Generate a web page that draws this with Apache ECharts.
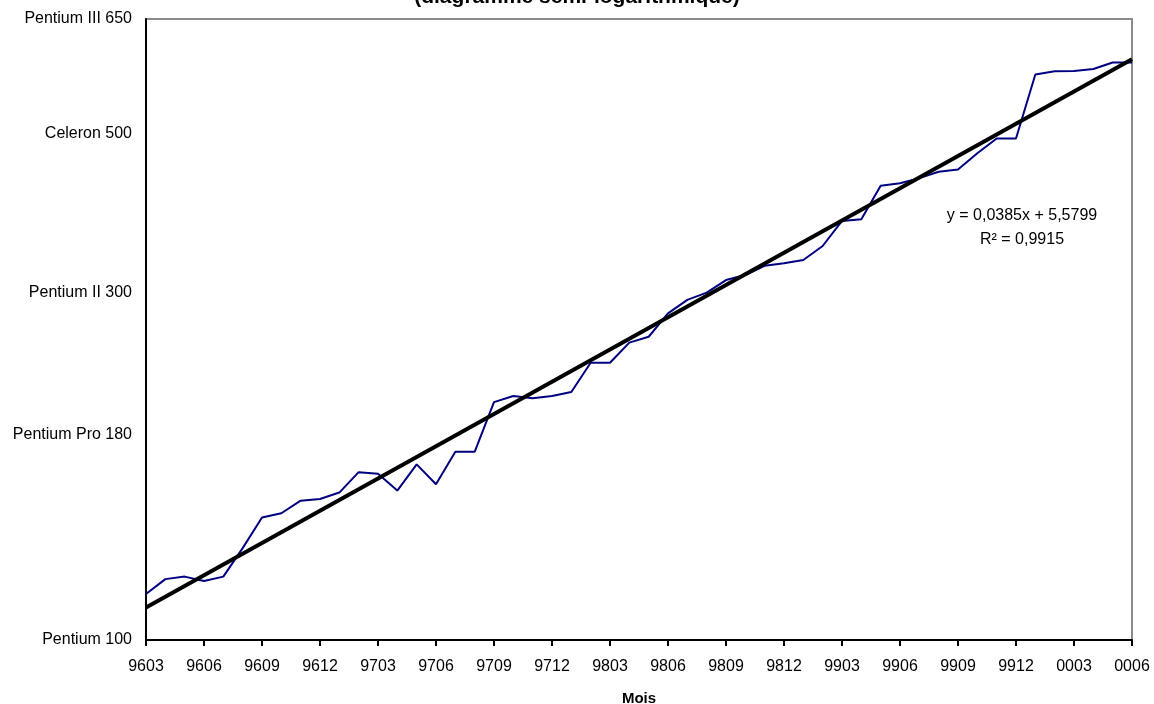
<!DOCTYPE html>
<html>
<head>
<meta charset="utf-8">
<script src="https://cdn.jsdelivr.net/npm/echarts@6/dist/echarts.min.js"></script>
<style>
html,body{margin:0;padding:0;background:#fff;}
#chart{width:1154px;height:704px;}
</style>
</head>
<body>
<div id="chart"></div>
<script>
// Months (AAMM)
const months = ['9603','9604','9605','9606','9607','9608','9609','9610','9611','9612',
  '9701','9702','9703','9704','9705','9706','9707','9708','9709','9710','9711','9712',
  '9801','9802','9803','9804','9805','9806','9807','9808','9809','9810','9811','9812',
  '9901','9902','9903','9904','9905','9906','9907','9908','9909','9910','9911','9912',
  '0001','0002','0003','0004','0005','0006'];

// Series values (log scale index)
const perfValues = [5.667, 5.720, 5.729, 5.713, 5.729, 5.831, 5.941, 5.956, 6.001, 6.007,
  6.030, 6.103, 6.097, 6.037, 6.131, 6.060, 6.176, 6.176, 6.354, 6.376,
  6.368, 6.376, 6.390, 6.495, 6.495, 6.567, 6.588, 6.672, 6.720, 6.746,
  6.791, 6.809, 6.842, 6.851, 6.863, 6.913, 7.003, 7.009, 7.129, 7.138,
  7.156, 7.179, 7.187, 7.245, 7.298, 7.298, 7.527, 7.539, 7.540, 7.547,
  7.570, 7.570];

// Trend line (from the displayed equation)
const trendSlope = 0.0385;
const trendIntercept = 5.5799;
const trendText = ['y = 0,0385x + 5,5799', 'R\u00B2 = 0,9915'];

// Y axis tick positions and labels
const yTickValues = [5.502, 6.239, 6.747, 7.314, 7.726];
const yTickLabels = ['Pentium 100', 'Pentium Pro 180', 'Pentium II 300', 'Celeron 500', 'Pentium III 650'];
const yMin = 5.502, yMax = 7.726;

const titleText = '(diagramme semi-logarithmique)';
const xAxisName = 'Mois';

const FONT = "'Liberation Sans', Arial, sans-serif";

const trendData = [
  [months[0], trendSlope * 1 + trendIntercept],
  [months[months.length - 1], trendSlope * months.length + trendIntercept]
];

const chart = echarts.init(document.getElementById('chart'));
chart.setOption({
  backgroundColor: '#ffffff',
  animation: false,
  textStyle: { fontFamily: FONT },
  grid: {
    left: 146, right: 22, top: 19, bottom: 64,
    outerBoundsMode: 'none',
    containLabel: false,
    show: true, borderColor: '#8a8a8a', borderWidth: 2, backgroundColor: 'transparent'
  },
  graphic: [
    { type: 'text', left: 'center', top: -13,
      style: { text: titleText, font: "bold 21px 'Liberation Sans', Arial, sans-serif", fill: '#000' } },
    { type: 'text', x: 1022, y: 216,
      style: { text: trendText[0], font: "16px 'Liberation Sans', Arial, sans-serif", fill: '#000', align: 'center', verticalAlign: 'middle' } },
    { type: 'text', x: 1022, y: 240,
      style: { text: trendText[1], font: "16px 'Liberation Sans', Arial, sans-serif", fill: '#000', align: 'center', verticalAlign: 'middle' } }
  ],
  xAxis: {
    type: 'category',
    data: months,
    boundaryGap: false,
    name: xAxisName,
    nameLocation: 'middle',
    nameGap: 51,
    nameTextStyle: { fontFamily: FONT, fontWeight: 'bold', fontSize: 15, color: '#000' },
    axisLine: { show: true, lineStyle: { color: '#000', width: 2 } },
    axisTick: { show: true, interval: 2, length: 6, inside: false, lineStyle: { color: '#000', width: 2 } },
    axisLabel: { interval: 2, margin: 19, fontSize: 16, color: '#000', fontFamily: FONT },
    splitLine: { show: false }
  },
  yAxis: {
    type: 'value',
    min: yMin,
    max: yMax,
    axisLine: { show: true, lineStyle: { color: '#000', width: 2 } },
    axisTick: { show: false },
    splitLine: { show: false },
    axisLabel: {
      customValues: yTickValues,
      margin: 14,
      fontSize: 16,
      color: '#000',
      fontFamily: FONT,
      formatter: function (v) {
        let best = 0, d = Infinity;
        yTickValues.forEach(function (t, i) { const dd = Math.abs(t - v); if (dd < d) { d = dd; best = i; } });
        return yTickLabels[best];
      }
    }
  },
  series: [
    {
      type: 'line',
      data: perfValues,
      symbol: 'none',
      lineStyle: { color: '#000080', width: 2 },
      z: 2
    },
    {
      type: 'line',
      data: trendData,
      symbol: 'none',
      lineStyle: { color: '#000', width: 4 },
      z: 3
    }
  ]
});
</script>
</body>
</html>
